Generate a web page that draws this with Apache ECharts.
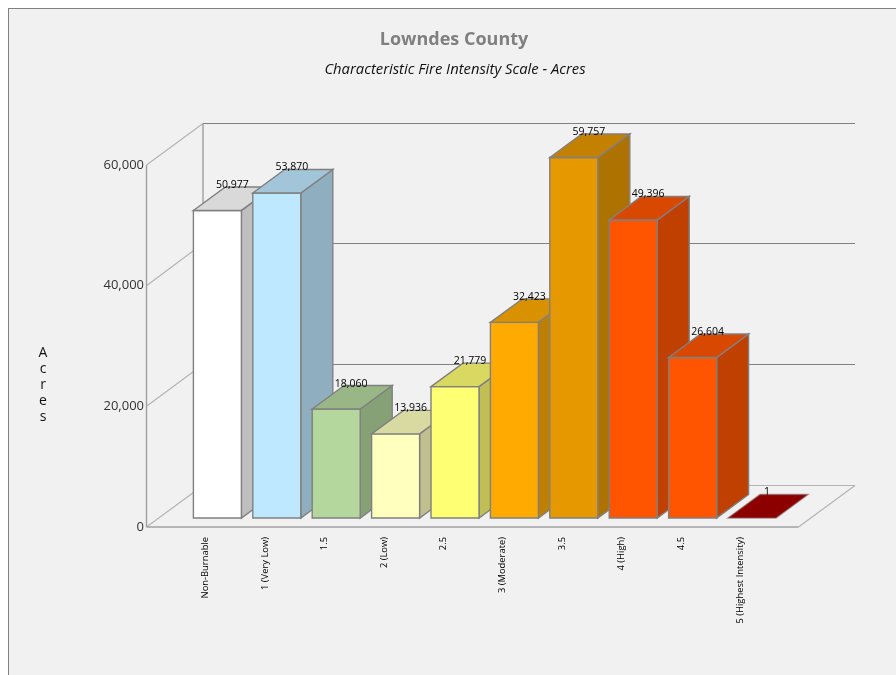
<!DOCTYPE html>
<html><head><meta charset="utf-8">
<style>
html,body{margin:0;padding:0;background:#fff;overflow:hidden}
#bg{position:absolute;left:8px;top:8px;width:900px;height:700px;background:#f1f1f1;border-left:1px solid #808080;border-top:1px solid #808080}
#main{position:absolute;left:0;top:0;width:896px;height:675px}
</style>
<script src="https://cdn.jsdelivr.net/npm/echarts@6/dist/echarts.min.js"></script>
</head><body><div id="bg"></div><div id="main"></div>
<script>
var categories = ['Non-Burnable','1 (Very Low)','1.5','2 (Low)','2.5','3 (Moderate)','3.5','4 (High)','4.5','5 (Highest Intensity)'];
var acres = [50977,53870,18060,13936,21779,32423,59757,49396,26604,1];
var barColors = ['#ffffff','#bee8ff','#b4d79e','#ffffbe','#ffff73','#ffaa00','#e69800','#ff5500','#ff5500','#a60000'];
var yTicks = [0,20000,40000,60000];
var FONT = '"Open Sans","Noto Sans",sans-serif';

// projection of the pseudo-3D scene relative to the grid
var WALL = {dx:56.5, dy:-41.5};          // depth of the whole floor
var BAR = {dx:32, dy:-23.5, w:48};       // depth and width of one bar
var BASE = {dx:11.7, dy:-9};             // bar row inset from the front edge
var LEFT_PAD = 30, RIGHT_PAD = 28;       // floor overhang beyond the grid

function shade(hex, f){
  var n = parseInt(hex.slice(1),16);
  var c = [n>>16&255,n>>8&255,n&255].map(function(v){return Math.round(v*f);});
  return 'rgb('+c.join(',')+')';
}
function poly(pts, fill, stroke, lw){
  return {type:'polygon',shape:{points:pts},style:{fill:fill||'none',stroke:stroke||'none',lineWidth:lw||1}};
}
function line(x1,y1,x2,y2,color,lw){
  return {type:'line',shape:{x1:x1,y1:y1,x2:x2,y2:y2},style:{stroke:color,lineWidth:lw||1,fill:'none'}};
}
function renderFrame(params, api){
  var cs = params.coordSys;
  var xL = Math.round(cs.x-LEFT_PAD)+0.5, xR = Math.round(cs.x+cs.width+RIGHT_PAD)+0.5;
  var y0 = api.coord([0,0])[1];
  var kids = [];
  yTicks.forEach(function(t){
    var y = api.coord([0,t])[1];
    var yb = Math.round(y+WALL.dy)-0.5;
    kids.push(line(xL,y,xL+WALL.dx,yb,'#b4b4b4',1.2));
    if(t>0) kids.push(line(xL+WALL.dx,yb,xR+WALL.dx,yb,'#808080',1));
  });
  var yt = api.coord([0,yTicks[yTicks.length-1]])[1];
  kids.push(line(xL,y0,xL,yt,'#a0a0a0',1.4));
  kids.push(line(xL+WALL.dx,y0+WALL.dy,xL+WALL.dx,yt+WALL.dy,'#a0a0a0',1.4));
  kids.push(line(xL+WALL.dx,y0+WALL.dy,xR+WALL.dx,y0+WALL.dy,'#b4b4b4',1.2));
  kids.push(line(xR,y0,xR+WALL.dx,y0+WALL.dy,'#b4b4b4',1.2));
  kids.push(line(xL,y0,xR,y0,'#a0a0a0',1.4));
  return {type:'group',children:kids};
}
function renderBar(params, api){
  var i = api.value(0), v = api.value(1);
  var top = api.coord([i,v]), bot = api.coord([i,0]);
  var cx = top[0]+BASE.dx;
  var x0 = cx-BAR.w/2, x1 = cx+BAR.w/2;
  var yT = top[1]+BASE.dy, yB = bot[1]+BASE.dy;
  var col = barColors[i];
  var d = BAR;
  var last = i===barColors.length-1;
  var edge = last ? 'rgba(128,90,90,0.6)' : '#808080';
  var kids = [];
  if(yB-yT>1){
    kids.push(poly([[x1,yT],[x1+d.dx,yT+d.dy],[x1+d.dx,yB+d.dy],[x1,yB]],shade(col,0.75),edge,1.4));
    kids.push({type:'rect',shape:{x:x0,y:yT,width:BAR.w,height:yB-yT},style:{fill:col,stroke:edge,lineWidth:1.4}});
  }
  kids.push(poly([[x0,yT],[x1,yT],[x1+d.dx,yT+d.dy],[x0+d.dx,yT+d.dy]],shade(col,0.85),edge,1.4));
  kids.push({type:'text',style:{text:acres[i].toLocaleString('en-US'),x:cx+15,y:yT+d.dy-2,
    align:'center',verticalAlign:'middle',font:'10.5px '+FONT,fill:'#000'},z2:10});
  return {type:'group',children:kids};
}
var chart = echarts.init(document.getElementById('main'));
chart.setOption({
  animation:false,
  backgroundColor:'transparent',
  title:[
    {text:'Lowndes County',left:454,top:31,padding:0,textAlign:'center',textStyle:{fontFamily:FONT,fontSize:18,fontWeight:'bold',color:'#808080'}},
    {text:'Characteristic Fire Intensity Scale - Acres',left:455,top:62,padding:0,textAlign:'center',textStyle:{fontFamily:FONT,fontSize:14.8,fontStyle:'italic',fontWeight:'normal',color:'#111'}},
    {text:'A\nc\nr\ne\ns',left:43,top:345,padding:0,textAlign:'center',textStyle:{fontFamily:FONT,fontSize:14,fontWeight:'normal',color:'#111',lineHeight:16}}
  ],
  grid:{left:176,width:594,top:165,height:362,containLabel:false},
  xAxis:{type:'category',data:categories,
    axisLine:{show:false},axisTick:{show:false},splitLine:{show:false},
    axisLabel:{rotate:90,interval:0,margin:10,fontSize:9.4,fontFamily:FONT,color:'#000'}},
  yAxis:{type:'value',min:0,max:60000,interval:20000,
    axisLine:{show:false},axisTick:{show:false},splitLine:{show:false},
    axisLabel:{margin:32,fontSize:13,fontFamily:FONT,color:'#333',padding:[0,0,8,0],
      formatter:function(v){return v.toLocaleString('en-US');}}},
  series:[
    {type:'custom',renderItem:renderFrame,data:[[0,0]],encode:{x:0,y:1},silent:true,z:1,clip:false},
    {type:'custom',renderItem:renderBar,data:acres.map(function(v,i){return [i,v];}),encode:{x:0,y:1},z:2,clip:false}
  ]
});
</script></body></html>
